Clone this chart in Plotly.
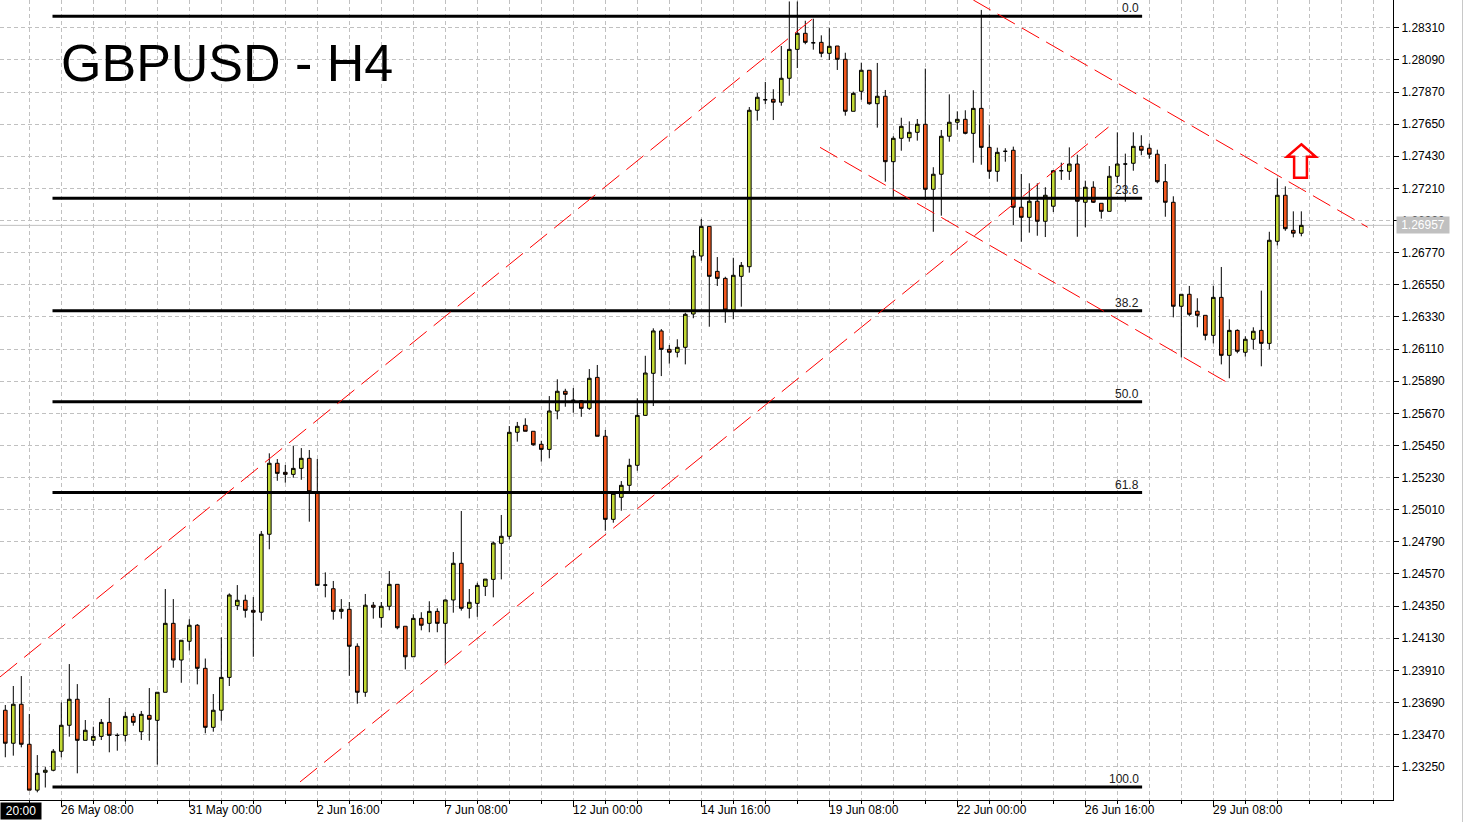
import plotly.graph_objects as go

# ---------------- data ----------------
bar_index = list(range(163))

opens = [1.23637, 1.23411, 1.23678, 1.23404, 1.23090, 1.23212, 1.23226, 1.23356, 1.23534, 1.23712,
         1.23431, 1.23431, 1.23458, 1.23554, 1.23465, 1.23465, 1.23595, 1.23490, 1.23602, 1.23568,
         1.23760, 1.24232, 1.23981, 1.24109, 1.24219, 1.23924, 1.23520, 1.23637, 1.23862, 1.24353,
         1.24390, 1.24321, 1.24308, 1.24842, 1.25328, 1.25266, 1.25252, 1.25293, 1.25362, 1.25122,
         1.24494, 1.24469, 1.24314, 1.24328, 1.24075, 1.23760, 1.24356, 1.24271, 1.24349, 1.24499,
         1.24212, 1.24003, 1.24266, 1.24232, 1.24314, 1.24232, 1.24392, 1.24643, 1.24335, 1.24369,
         1.24485, 1.24533, 1.24780, 1.24828, 1.25540, 1.25588, 1.25547, 1.25458, 1.25423, 1.25686,
         1.25821, 1.25759, 1.25756, 1.25704, 1.25916, 1.25513, 1.24944, 1.25095, 1.25177, 1.25314,
         1.25656, 1.25944, 1.26234, 1.26108, 1.26088, 1.26122, 1.26350, 1.26747, 1.26950, 1.26642,
         1.26594, 1.26377, 1.26608, 1.26674, 1.27745, 1.27817, 1.27820, 1.27800, 1.27964, 1.28162,
         1.28272, 1.28207, 1.28210, 1.28135, 1.28185, 1.28094, 1.27738, 1.27875, 1.28019, 1.27790,
         1.27841, 1.27393, 1.27553, 1.27557, 1.27594, 1.27649, 1.27204, 1.27307, 1.27567, 1.27663,
         1.27683, 1.27587, 1.27758, 1.27491, 1.27327, 1.27464, 1.27471, 1.27081, 1.27012, 1.27122,
         1.26985, 1.27088, 1.27331, 1.27327, 1.27377, 1.27115, 1.27218, 1.27108, 1.27053, 1.27293,
         1.27377, 1.27382, 1.27498, 1.27485, 1.27444, 1.27256, 1.27115, 1.26403, 1.26485, 1.26369,
         1.26341, 1.26204, 1.26464, 1.26067, 1.26238, 1.26088, 1.26177, 1.26238, 1.26149, 1.26848,
         1.27163, 1.26923, 1.26903]

highs = [1.23673, 1.23803, 1.23871, 1.23611, 1.23330, 1.23248, 1.23371, 1.23691, 1.23953, 1.23816,
         1.23570, 1.23524, 1.23577, 1.23721, 1.23479, 1.23627, 1.23616, 1.23632, 1.23789, 1.23760,
         1.24467, 1.24398, 1.24116, 1.24260, 1.24227, 1.23991, 1.23748, 1.24136, 1.24437, 1.24494,
         1.24428, 1.24412, 1.24864, 1.25396, 1.25357, 1.25316, 1.25448, 1.25432, 1.25419, 1.25357,
         1.24581, 1.24522, 1.24398, 1.24378, 1.24095, 1.24433, 1.24378, 1.24378, 1.24590, 1.24499,
         1.24212, 1.24294, 1.24308, 1.24383, 1.24335, 1.24396, 1.24720, 1.25001, 1.24467, 1.24510,
         1.24535, 1.24791, 1.24974, 1.25583, 1.25611, 1.25636, 1.25547, 1.25482, 1.25788, 1.25903,
         1.25838, 1.25843, 1.25761, 1.25973, 1.26001, 1.25556, 1.25122, 1.25206, 1.25359, 1.25773,
         1.26064, 1.26252, 1.26247, 1.26138, 1.26177, 1.26359, 1.26788, 1.27001, 1.26950, 1.26740,
         1.26605, 1.26735, 1.26706, 1.27767, 1.27863, 1.27939, 1.27889, 1.28185, 1.28490, 1.28490,
         1.28358, 1.28372, 1.28258, 1.28307, 1.28185, 1.28139, 1.27872, 1.28071, 1.28019, 1.28069,
         1.27884, 1.27567, 1.27694, 1.27669, 1.27685, 1.28030, 1.27355, 1.27610, 1.27854, 1.27738,
         1.27745, 1.27882, 1.28432, 1.27644, 1.27489, 1.27485, 1.27496, 1.27309, 1.27245, 1.27245,
         1.27218, 1.27336, 1.27386, 1.27491, 1.27441, 1.27263, 1.27259, 1.27108, 1.27363, 1.27594,
         1.27448, 1.27594, 1.27574, 1.27516, 1.27475, 1.27377, 1.27156, 1.26485, 1.26542, 1.26458,
         1.26341, 1.26544, 1.26672, 1.26314, 1.26245, 1.26197, 1.26259, 1.26510, 1.26913, 1.27279,
         1.27224, 1.27053, 1.27053]

lows = [1.23315, 1.23326, 1.23383, 1.23090, 1.23075, 1.23108, 1.23219, 1.23315, 1.23456, 1.23205,
        1.23431, 1.23394, 1.23433, 1.23349, 1.23360, 1.23422, 1.23531, 1.23433, 1.23428, 1.23265,
        1.23760, 1.23928, 1.23825, 1.24045, 1.23814, 1.23479, 1.23490, 1.23565, 1.23803, 1.24323,
        1.24271, 1.24003, 1.24250, 1.24739, 1.25208, 1.25195, 1.25229, 1.25215, 1.24928, 1.24492,
        1.24410, 1.24257, 1.24264, 1.23873, 1.23682, 1.23729, 1.24264, 1.24202, 1.24321, 1.24191,
        1.23917, 1.24003, 1.24184, 1.24171, 1.24171, 1.23958, 1.24305, 1.24319, 1.24266, 1.24277,
        1.24419, 1.24410, 1.24533, 1.24807, 1.25476, 1.25547, 1.25448, 1.25339, 1.25362, 1.25629,
        1.25715, 1.25674, 1.25646, 1.25693, 1.25513, 1.24866, 1.24921, 1.25003, 1.25126, 1.25277,
        1.25652, 1.25720, 1.25925, 1.26010, 1.26053, 1.26005, 1.26321, 1.26715, 1.26263, 1.26542,
        1.26290, 1.26314, 1.26400, 1.26633, 1.27674, 1.27786, 1.27678, 1.27776, 1.27845, 1.28034,
        1.28197, 1.28160, 1.28108, 1.28089, 1.28021, 1.27708, 1.27738, 1.27817, 1.27783, 1.27626,
        1.27256, 1.27153, 1.27468, 1.27530, 1.27537, 1.27131, 1.26913, 1.27023, 1.27530, 1.27612,
        1.27580, 1.27386, 1.27372, 1.27276, 1.27256, 1.27393, 1.26959, 1.26845, 1.26907, 1.26886,
        1.26877, 1.27048, 1.27268, 1.27268, 1.26879, 1.26944, 1.27110, 1.27003, 1.27053, 1.27247,
        1.27119, 1.27331, 1.27437, 1.27413, 1.27245, 1.27016, 1.26327, 1.26053, 1.26334, 1.26259,
        1.26170, 1.26149, 1.26005, 1.25910, 1.26081, 1.26058, 1.26108, 1.25992, 1.26108, 1.26820,
        1.26920, 1.26875, 1.26882]

closes = [1.23411, 1.23678, 1.23404, 1.23090, 1.23205, 1.23226, 1.23356, 1.23534, 1.23712, 1.23431,
          1.23500, 1.23458, 1.23554, 1.23465, 1.23465, 1.23595, 1.23554, 1.23609, 1.23575, 1.23760,
          1.24232, 1.23981, 1.24116, 1.24219, 1.23924, 1.23520, 1.23637, 1.23862, 1.24426, 1.24390,
          1.24321, 1.24308, 1.24842, 1.25328, 1.25259, 1.25252, 1.25293, 1.25362, 1.25133, 1.24492,
          1.24494, 1.24314, 1.24328, 1.24075, 1.23760, 1.24356, 1.24342, 1.24349, 1.24499, 1.24202,
          1.24003, 1.24266, 1.24219, 1.24314, 1.24232, 1.24392, 1.24643, 1.24335, 1.24376, 1.24492,
          1.24535, 1.24782, 1.24828, 1.25540, 1.25581, 1.25547, 1.25455, 1.25423, 1.25686, 1.25821,
          1.25800, 1.25759, 1.25704, 1.25910, 1.25513, 1.24944, 1.25122, 1.25177, 1.25314, 1.25656,
          1.25946, 1.26234, 1.26108, 1.26088, 1.26122, 1.26348, 1.26747, 1.26950, 1.26608, 1.26594,
          1.26377, 1.26615, 1.26683, 1.27745, 1.27834, 1.27817, 1.27800, 1.27964, 1.28162, 1.28272,
          1.28210, 1.28207, 1.28135, 1.28183, 1.28094, 1.27738, 1.27861, 1.28019, 1.27790, 1.27841,
          1.27393, 1.27553, 1.27635, 1.27594, 1.27649, 1.27204, 1.27307, 1.27567, 1.27663, 1.27683,
          1.27587, 1.27758, 1.27491, 1.27327, 1.27457, 1.27464, 1.27081, 1.27012, 1.27122, 1.26985,
          1.27163, 1.27331, 1.27331, 1.27377, 1.27122, 1.27218, 1.27115, 1.27053, 1.27293, 1.27377,
          1.27377, 1.27498, 1.27471, 1.27444, 1.27256, 1.27115, 1.26403, 1.26485, 1.26348, 1.26341,
          1.26204, 1.26464, 1.26067, 1.26238, 1.26095, 1.26177, 1.26232, 1.26149, 1.26855, 1.27163,
          1.26934, 1.26903, 1.26957]

time_label_bars = [7, 23, 39, 55, 71, 87, 103, 119, 135, 151]
time_labels = ["26 May 08:00", "31 May 00:00", "2 Jun 16:00", "7 Jun 08:00", "12 Jun 00:00",
               "14 Jun 16:00", "19 Jun 08:00", "22 Jun 00:00", "26 Jun 16:00", "29 Jun 08:00"]

price_ticks = [1.23250, 1.23470, 1.23690, 1.23910, 1.24130, 1.24350, 1.24570, 1.24790,
               1.25010, 1.25230, 1.25450, 1.25670, 1.25890, 1.26110, 1.26330, 1.26550,
               1.26770, 1.26990, 1.27210, 1.27430, 1.27650, 1.27870, 1.28090, 1.28310]
price_tick_labels = ["%.5f" % v for v in price_ticks]

fib_levels = [1.28388, 1.27143, 1.26372, 1.25750, 1.25127, 1.23111]
fib_labels = ["0.0", "23.6", "38.2", "50.0", "61.8", "100.0"]
fib_bar_start, fib_bar_end = 5.9, 142.1

# trend channel lines: (bar0, price0, bar1, price1)
channel_rise_upper = (-0.66, 1.23865, 101.0, 1.28375)
channel_rise_lower = (36.84, 1.23146, 137.9, 1.27630)
channel_fall_upper = (121.0, 1.28500, 170.3, 1.26944)
channel_fall_lower = (101.84, 1.27491, 152.84, 1.25878)

last_price = 1.26957
symbol_title = "GBPUSD - H4"
cursor_time = "20:00"

# up-arrow marker outline (bar, price)
arrow_bars = [162.0, 163.8, 162.7, 162.7, 161.1, 161.1, 160.2]
arrow_prices = [1.27512, 1.27427, 1.27427, 1.27283, 1.27283, 1.27427, 1.27427]

# ---------------- styling ----------------
BULL = "#c2d935"
BEAR = "#f2581e"
GRID = "#c0c0c0"
FONT = "Liberation Sans, Arial, sans-serif"

X_RANGE = [-0.6625, 173.46]
Y_RANGE = [1.230224, 1.28500]

fig = go.Figure()
fig.add_trace(go.Candlestick(
    x=bar_index, open=opens, high=highs, low=lows, close=closes,
    increasing=dict(line=dict(color="black", width=1), fillcolor=BULL),
    decreasing=dict(line=dict(color="black", width=1), fillcolor=BEAR),
    whiskerwidth=0, showlegend=False, hoverinfo="skip",
))

shapes = []
for lvl in fib_levels:
    shapes.append(dict(type="line", xref="x", yref="y", x0=fib_bar_start, x1=fib_bar_end,
                       y0=lvl, y1=lvl, line=dict(color="black", width=3), layer="above"))

for (b0, p0, b1, p1), dash in [(channel_rise_upper, "22px,9px"), (channel_rise_lower, "22px,9px"),
                               (channel_fall_upper, "20px,8px"), (channel_fall_lower, "20px,8px")]:
    shapes.append(dict(type="line", xref="x", yref="y", x0=b0, y0=p0, x1=b1, y1=p1,
                       line=dict(color="#ff0000", width=1, dash=dash), layer="above"))

shapes.append(dict(type="line", xref="paper", yref="y", x0=0, x1=1, y0=last_price, y1=last_price,
                   line=dict(color="#c0c0c0", width=1), layer="below"))

path = "M " + " L ".join(f"{b},{p}" for b, p in zip(arrow_bars, arrow_prices)) + " Z"
shapes.append(dict(type="path", xref="x", yref="y", path=path,
                   line=dict(color="#ff0000", width=2.5), fillcolor="rgba(255,255,255,0)", layer="above"))

shapes.append(dict(type="line", xref="paper", yref="paper", x0=1.0499, x1=1.0499, y0=-0.03, y1=1,
                   line=dict(color="#c8c8c8", width=1)))

annotations = []
for lvl, lab in zip(fib_levels, fib_labels):
    annotations.append(dict(x=141.7, y=lvl, xref="x", yref="y", text=lab, showarrow=False,
                            xanchor="right", yanchor="bottom", yshift=-1, xshift=2,
                            font=dict(family=FONT, size=12, color="#202020")))

for b, lab in zip(time_label_bars, time_labels):
    annotations.append(dict(x=b, y=0, xref="x", yref="paper", text=lab, showarrow=False,
                            xanchor="left", yanchor="top", xshift=-2, yshift=-1,
                            font=dict(family=FONT, size=12, color="black")))

annotations.append(dict(x=0, y=0, xref="paper", yref="paper", text=cursor_time, showarrow=False,
                        xanchor="left", yanchor="top", yshift=-2, bgcolor="black", borderpad=1,
                        width=38, align="center",
                        font=dict(family=FONT, size=12, color="white")))

annotations.append(dict(x=1, y=last_price, xref="paper", yref="y", text=f"{last_price:.5f}",
                        showarrow=False, xanchor="left", yanchor="middle", xshift=3,
                        bgcolor="#c0c0c0", borderpad=1, width=50,
                        font=dict(family=FONT, size=12, color="white")))

annotations.append(dict(x=62 / 1393, y=1 - 63 / 800, xref="paper", yref="paper", text=symbol_title,
                        showarrow=False, xanchor="left", yanchor="middle", xshift=-3,
                        font=dict(family=FONT, size=52, color="black")))

fig.update_layout(
    width=1465, height=822,
    margin=dict(l=0, r=72, t=0, b=22),
    paper_bgcolor="white", plot_bgcolor="white",
    boxgap=0.35,
    shapes=shapes, annotations=annotations,
    showlegend=False,
    xaxis=dict(
        range=X_RANGE, rangeslider=dict(visible=False),
        tickmode="array", tickvals=time_label_bars, ticktext=[""] * len(time_label_bars),
        ticks="outside", ticklen=6, tickcolor="black",
        showgrid=True, gridcolor=GRID, griddash="4px,3px", gridwidth=1,
        minor=dict(tick0=3, dtick=4, ticks="outside", ticklen=3, tickcolor="black",
                   showgrid=True, gridcolor=GRID, griddash="4px,3px", gridwidth=1),
        showline=True, linecolor="black", linewidth=1, zeroline=False, fixedrange=True,
    ),
    yaxis=dict(
        range=Y_RANGE, side="right",
        tickmode="array", tickvals=price_ticks, ticktext=price_tick_labels,
        ticks="outside", ticklen=5, tickcolor="black",
        tickfont=dict(family=FONT, size=12, color="black"),
        showgrid=True, gridcolor=GRID, griddash="4px,3px", gridwidth=1,
        showline=True, linecolor="black", linewidth=1, zeroline=False, fixedrange=True,
    ),
)

fig.write_html(
    "out.html",
    config={"displayModeBar": False},
    post_script="document.body.style.margin='0';document.body.style.overflow='hidden';",
)
